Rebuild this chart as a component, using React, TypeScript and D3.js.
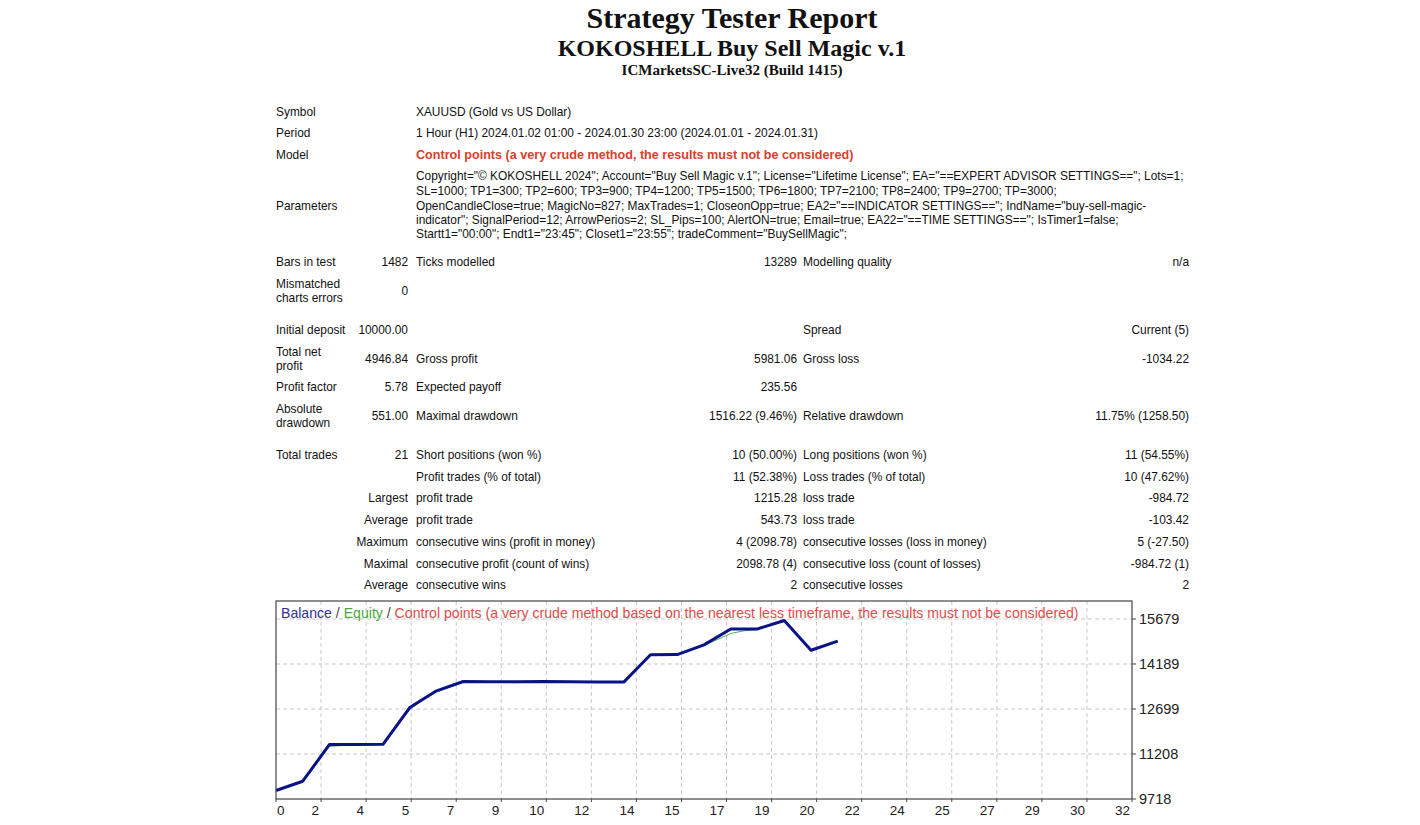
import React from 'react';
import * as d3 from 'd3';

// ---------- Report text ----------
const titleLines = ['Strategy Tester Report', 'KOKOSHELL Buy Sell Magic v.1', 'ICMarketsSC-Live32 (Build 1415)'];

const infoRows = [
  ['Symbol', 'XAUUSD (Gold vs US Dollar)'],
  ['Period', '1 Hour (H1) 2024.01.02 01:00 - 2024.01.30 23:00 (2024.01.01 - 2024.01.31)'],
  ['Model', 'Control points (a very crude method, the results must not be considered)'],
];

const parameterLines = [
  'Copyright="© KOKOSHELL 2024"; Account="Buy Sell Magic v.1"; License="Lifetime License"; EA="==EXPERT ADVISOR SETTINGS=="; Lots=1;',
  'SL=1000; TP1=300; TP2=600; TP3=900; TP4=1200; TP5=1500; TP6=1800; TP7=2100; TP8=2400; TP9=2700; TP=3000;',
  'OpenCandleClose=true; MagicNo=827; MaxTrades=1; CloseonOpp=true; EA2="==INDICATOR SETTINGS=="; IndName="buy-sell-magic-',
  'indicator"; SignalPeriod=12; ArrowPerios=2; SL_Pips=100; AlertON=true; Email=true; EA22="==TIME SETTINGS=="; IsTimer1=false;',
  'Startt1="00:00"; Endt1="23:45"; Closet1="23:55"; tradeComment="BuySellMagic";',
];

// [label, value, label2, value2, label3, value3]
const statRows = [
  ['Bars in test', '1482', 'Ticks modelled', '13289', 'Modelling quality', 'n/a'],
  ['Mismatched\ncharts errors', '0', '', '', '', ''],
  ['Initial deposit', '10000.00', '', '', 'Spread', 'Current (5)'],
  ['Total net\nprofit', '4946.84', 'Gross profit', '5981.06', 'Gross loss', '-1034.22'],
  ['Profit factor', '5.78', 'Expected payoff', '235.56', '', ''],
  ['Absolute\ndrawdown', '551.00', 'Maximal drawdown', '1516.22 (9.46%)', 'Relative drawdown', '11.75% (1258.50)'],
  ['Total trades', '21', 'Short positions (won %)', '10 (50.00%)', 'Long positions (won %)', '11 (54.55%)'],
  ['', '', 'Profit trades (% of total)', '11 (52.38%)', 'Loss trades (% of total)', '10 (47.62%)'],
  ['', 'Largest', 'profit trade', '1215.28', 'loss trade', '-984.72'],
  ['', 'Average', 'profit trade', '543.73', 'loss trade', '-103.42'],
  ['', 'Maximum', 'consecutive wins (profit in money)', '4 (2098.78)', 'consecutive losses (loss in money)', '5 (-27.50)'],
  ['', 'Maximal', 'consecutive profit (count of wins)', '2098.78 (4)', 'consecutive loss (count of losses)', '-984.72 (1)'],
  ['', 'Average', 'consecutive wins', '2', 'consecutive losses', '2'],
];

// ---------- Chart data ----------
const trades = [0, 1, 2, 3, 4, 5, 6, 7, 8, 9, 10, 11, 12, 13, 14, 15, 16, 17, 18, 19, 20, 21];
const balance = [10000, 10307, 11524, 11520, 11530, 12745, 13300, 13610, 13605, 13600, 13612, 13600, 13595, 13590, 14497, 14500, 14823, 15349, 15350, 15628, 14643, 14947];
const equityTrades = [0, 1, 2, 2.5, 3, 4, 5, 5.5, 6, 7, 8, 9, 10, 11, 12, 13, 14, 15, 16, 17, 17.5, 18, 19, 20, 21];
const equity = [10000, 10280, 11460, 11490, 11505, 11525, 12680, 13000, 13260, 13590, 13580, 13570, 13600, 13595, 13590, 13585, 14470, 14495, 14800, 15200, 15290, 15330, 15600, 14660, 14930];
const yTicks = [15679, 14189, 12699, 11208, 9718];
const xTickLabels = ['0', '2', '4', '5', '7', '9', '10', '12', '14', '15', '17', '19', '20', '22', '24', '25', '27', '29', '30', '32'];
const xMax = 32;

const legendParts = [
  { text: 'Balance', color: '#33338f' },
  { text: ' / ', color: '#444' },
  { text: 'Equity', color: '#4aa83c' },
  { text: ' / ', color: '#444' },
  { text: 'Control points (a very crude method based on the nearest less timeframe, the results must not be considered)', color: '#e04a4a' },
];

const FONT = '"Liberation Sans", Arial, sans-serif';
const SERIF = '"Liberation Serif", "Times New Roman", serif';

export default function App() {
  const left = 276, right = 1132, top = 601, bottom = 799;
  const x = d3.scaleLinear().domain([0, xMax]).range([left, right]);
  const y = d3.scaleLinear().domain([yTicks[yTicks.length - 1], yTicks[0]]).range([bottom, 619]);
  const xt = d3.scalePoint<number>().domain(xTickLabels.map((_, i) => i)).range([left, right]);

  const balLine = d3.line<number>().x((_, i) => x(trades[i])).y((d) => y(d));
  const eqLine = d3.line<number>().x((_, i) => x(equityTrades[i])).y((d) => y(d));

  const col1 = 276, col2r = 408, col2 = 416, col3r = 797, col4 = 803, col5r = 1189;
  const rowY = [262, 291, 330, 359, 387, 416, 455, 477, 498, 520, 542, 564, 585];
  const infoY = [112, 133, 155];
  const paramY = [176, 191, 206, 220, 234];

  const txt = (key: string, xx: number, yy: number, s: string, anchor = 'start', extra: any = {}) => {
    const lines = s.split('\n');
    const lh = 14;
    const y0 = yy - ((lines.length - 1) * lh) / 2;
    return (
      <text key={key} x={xx} y={y0} textAnchor={anchor} fontSize={11.9} fill="#111" {...extra}>
        {lines.map((l, i) => (
          <tspan key={i} x={xx} y={y0 + i * lh} dy="0.35em">{l}</tspan>
        ))}
      </text>
    );
  };

  return (
    <svg width={1420} height={825} style={{ position: 'absolute', left: 0, top: 0, background: '#fff' }} fontFamily={FONT}>
      <rect width={1420} height={825} fill="#fff" />
      {/* Titles */}
      <text x={732} y={28} textAnchor="middle" fontFamily={SERIF} fontWeight="bold" fontSize={30} fill="#111">{titleLines[0]}</text>
      <text x={732} y={56} textAnchor="middle" fontFamily={SERIF} fontWeight="bold" fontSize={24} fill="#111">{titleLines[1]}</text>
      <text x={732} y={75} textAnchor="middle" fontFamily={SERIF} fontWeight="bold" fontSize={15} fill="#111">{titleLines[2]}</text>

      {/* Info rows */}
      {infoRows.map((r, i) => (
        <g key={'info' + i}>
          {txt('il' + i, col1, infoY[i], r[0])}
          {txt('iv' + i, col2, infoY[i], r[1], 'start', i === 2 ? { fill: '#d8402c', fontWeight: 'bold', fontSize: 12.6 } : {})}
        </g>
      ))}
      {txt('plabel', col1, paramY[2], 'Parameters')}
      {parameterLines.map((l, i) => txt('p' + i, col2, paramY[i], l))}

      {/* Stats */}
      {statRows.map((r, i) => (
        <g key={'row' + i}>
          {r[0] && txt('a' + i, col1, rowY[i], r[0])}
          {r[1] && txt('b' + i, col2r, rowY[i], r[1], 'end')}
          {r[2] && txt('c' + i, col2, rowY[i], r[2])}
          {r[3] && txt('d' + i, col3r, rowY[i], r[3], 'end')}
          {r[4] && txt('e' + i, col4, rowY[i], r[4])}
          {r[5] && txt('f' + i, col5r, rowY[i], r[5], 'end')}
        </g>
      ))}

      {/* Chart */}
      <g>
        {yTicks.slice(0, -1).map((t) => (
          <line key={'hg' + t} x1={left} x2={right} y1={y(t)} y2={y(t)} stroke="#c8c8c8" strokeDasharray="4,3" />
        ))}
        {xTickLabels.slice(1, -1).map((_, j) => (
          <line key={'vg' + j} x1={xt(j + 1)} x2={xt(j + 1)} y1={top} y2={bottom} stroke="#c8c8c8" strokeDasharray="4,3" />
        ))}
        <path d={eqLine(equity) || ''} fill="none" stroke="#4caf50" strokeWidth={1} />
        <path d={balLine(balance) || ''} fill="none" stroke="#0a1386" strokeWidth={3} strokeLinejoin="round" />
        <rect x={left} y={top} width={right - left} height={bottom - top} fill="none" stroke="#444" strokeWidth={1.2} />
        {yTicks.map((t) => (
          <g key={'yt' + t}>
            <line x1={right} x2={right + 4} y1={y(t)} y2={y(t)} stroke="#444" />
            <text x={right + 7} y={y(t)} dy="0.35em" fontSize={14.5} fill="#222">{t}</text>
          </g>
        ))}
        {xTickLabels.map((l, i) => (
          <g key={'xt' + i}>
            <line x1={xt(i)} x2={xt(i)} y1={bottom} y2={bottom + 3} stroke="#444" />
            <text x={i === 0 ? xt(i)! + 1 : xt(i)! - 2} y={bottom + 11} dy="0.35em" textAnchor={i === 0 ? 'start' : 'end'} fontSize={13.5} fill="#222">{l}</text>
          </g>
        ))}
        <text x={281} y={613} dy="0.35em" fontSize={14.1}>
          {legendParts.map((p, i) => (
            <tspan key={i} fill={p.color} style={{ whiteSpace: 'pre' }}>{p.text}</tspan>
          ))}
        </text>
      </g>
    </svg>
  );
}
